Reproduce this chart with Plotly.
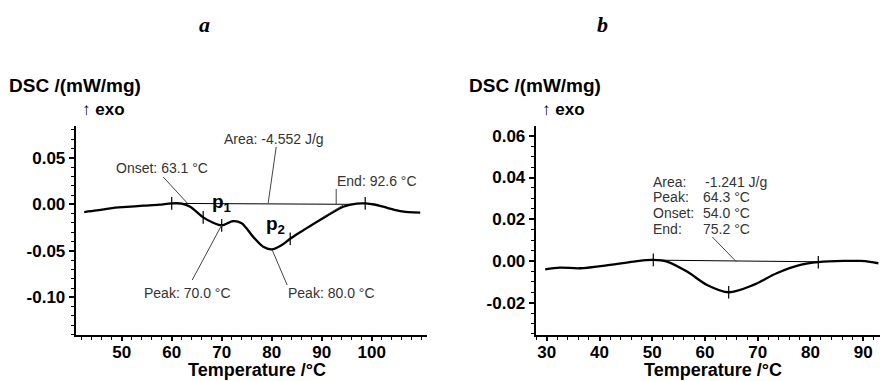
import plotly.graph_objects as go

W, H = 880, 381

# ---------------- data: panel a ----------------
a_T = [42.5, 45.0, 47.7, 51.0, 54.3, 57.5, 60.0, 62.0, 63.7, 66.3, 68.3, 70.0, 72.3, 74.0,
       76.3, 78.3, 80.0, 82.0, 83.7, 85.7, 87.7, 91.0, 94.3, 97.0, 98.7, 100.5, 102.3, 105.7, 109.7]
a_dsc = [-0.0083, -0.0066, -0.0043, -0.0028, -0.0015, -0.0004, 0.0010, 0.0008, -0.0026, -0.0140,
         -0.0198, -0.0226, -0.0180, -0.0204, -0.0350, -0.0456, -0.0484, -0.0438, -0.0370, -0.0300,
         -0.0233, -0.0126, -0.0026, 0.0008, 0.0010, -0.0002, -0.0026, -0.0072, -0.0090]
a_base_T = [60.0, 96.0]
a_base_dsc = [0.0010, 0.0000]
a_mark_T = [60.0, 66.3, 70.0, 83.7, 98.7]
a_mark_dsc = [0.0010, -0.0140, -0.0226, -0.0370, 0.0010]
a_xticks = [50, 60, 70, 80, 90, 100]
a_xticktext = ["50", "60", "70", "80", "90", "100"]
a_yticks = [-0.10, -0.05, 0.00, 0.05]
a_yticktext = ["-0.10", "-0.05", "0.00", "0.05"]

# ---------------- data: panel b ----------------
b_T = [29.7, 32.5, 36.3, 42.0, 46.4, 50.2, 52.8, 56.6, 60.4, 64.5, 69.2, 73.6, 78.1, 81.5,
       86.3, 89.5, 91.3, 92.9]
b_dsc = [-0.0040, -0.0032, -0.0035, -0.0019, -0.0003, 0.0005, -0.0003, -0.0051, -0.0115, -0.0150,
         -0.0115, -0.0059, -0.0019, -0.0006, 0.0000, 0.0000, -0.0004, -0.0011]
b_base_T = [50.2, 81.5]
b_base_dsc = [0.0004, -0.0004]
b_mark_T = [50.2, 64.5, 81.5]
b_mark_dsc = [0.0005, -0.0150, -0.0006]
b_xticks = [30, 40, 50, 60, 70, 80, 90]
b_xticktext = ["30", "40", "50", "60", "70", "80", "90"]
b_yticks = [-0.02, 0.00, 0.02, 0.04, 0.06]
b_yticktext = ["-0.02", "0.00", "0.02", "0.04", "0.06"]

a_labels = ["Area: -4.552 J/g", "Onset: 63.1 °C", "End: 92.6 °C", "Peak: 70.0 °C", "Peak: 80.0 °C"]
b_keys = ["Area:", "Peak:", "Onset:", "End:"]
b_vals = ["-1.241 J/g", "64.3 °C", "54.0 °C", "75.2 °C"]

# ---------------- figure ----------------
fig = go.Figure()
BLACK = "#000000"
TXT = "#333333"
SANS = "Liberation Sans, Arial, sans-serif"

def curve(T, v, xa, ya):
    fig.add_trace(go.Scatter(x=T, y=v, mode="lines", xaxis=xa, yaxis=ya,
                             line=dict(color=BLACK, width=2.3, shape="spline", smoothing=0.9),
                             showlegend=False, hoverinfo="skip"))

def base(T, v, xa, ya):
    fig.add_trace(go.Scatter(x=T, y=v, mode="lines", xaxis=xa, yaxis=ya,
                             line=dict(color=BLACK, width=1), showlegend=False, hoverinfo="skip"))

def marks(T, v, xa, ya):
    fig.add_trace(go.Scatter(x=T, y=v, mode="markers", xaxis=xa, yaxis=ya,
                             marker=dict(symbol="line-ns-open", size=9, color=BLACK,
                                         line=dict(width=1.2, color=BLACK)),
                             showlegend=False, hoverinfo="skip"))

base(a_base_T, a_base_dsc, "x", "y")
curve(a_T, a_dsc, "x", "y")
marks(a_mark_T, a_mark_dsc, "x", "y")
base(b_base_T, b_base_dsc, "x2", "y2")
curve(b_T, b_dsc, "x2", "y2")
marks(b_mark_T, b_mark_dsc, "x2", "y2")

ydom = [(H - 335) / H, (H - 126) / H]
tickfont = dict(family=SANS, size=17, color=BLACK, weight="bold")

def xax(dom, rng, tv, tt):
    return dict(domain=dom, range=rng, tickmode="array", tickvals=tv, ticktext=tt,
                ticks="outside", ticklen=4, tickwidth=1.5, tickcolor=BLACK,
                ticklabelstandoff=-3,
                minor=dict(tickmode="linear", tick0=0, dtick=2, ticks="outside", ticklen=3,
                           tickwidth=1, tickcolor=BLACK),
                showline=True, linewidth=2, linecolor=BLACK, showgrid=False, zeroline=False,
                tickfont=tickfont, fixedrange=True)

def yax(rng, tv, tt, mdt, anchor):
    return dict(domain=ydom, range=rng, tickmode="array", tickvals=tv, ticktext=tt,
                ticks="outside", ticklen=5, tickwidth=1.5, tickcolor=BLACK,
                minor=dict(tickmode="linear", tick0=0, dtick=mdt, ticks="outside", ticklen=3,
                           tickwidth=1, tickcolor=BLACK),
                showline=True, linewidth=2, linecolor=BLACK, showgrid=False, zeroline=False,
                tickfont=tickfont, anchor=anchor, fixedrange=True)

fig.update_layout(
    width=W, height=H, margin=dict(l=0, r=0, t=0, b=0),
    paper_bgcolor="white", plot_bgcolor="white", showlegend=False,
    xaxis=xax([75.7 / W, 426.7 / W], [40.8, 111.0], a_xticks, a_xticktext) | dict(anchor="y"),
    yaxis=yax([-0.1405, 0.0842], a_yticks, a_yticktext, 0.01, "x"),
    xaxis2=xax([535.7 / W, 1.0], [27.9, 93.2], b_xticks, b_xticktext) | dict(anchor="y2"),
    yaxis2=yax([-0.0355, 0.0647], b_yticks, b_yticktext, 0.005, "x2"),
)

def P(px, py):
    return px / W, 1 - py / H

def text(s, px, py, size=14, xanchor="left", color=TXT, family=SANS, weight="normal"):
    x, y = P(px, py)
    fig.add_annotation(x=x, y=y, xref="paper", yref="paper", text=s, showarrow=False,
                       xanchor=xanchor, yanchor="middle", borderpad=0,
                       font=dict(family=family, size=size, color=color, weight=weight))

def leader(x0, y0, x1, y1, xr, yr):
    fig.add_shape(type="line", x0=x0, y0=y0, x1=x1, y1=y1, xref=xr, yref=yr,
                  line=dict(color="#444444", width=1))

# panel titles
text("<b><i>a</i></b>", 204, 25, size=22, xanchor="center", color=BLACK,
     family="Liberation Serif, Times New Roman, serif")
text("<b><i>b</i></b>", 602, 25, size=22, xanchor="center", color=BLACK,
     family="Liberation Serif, Times New Roman, serif")

# axis titles
text("DSC /(mW/mg)", 8, 85, size=19, color=BLACK, weight="bold")
text("↑ <b>exo</b>", 81, 109, size=17, color=BLACK)
text("DSC /(mW/mg)", 468, 85, size=19, color=BLACK, weight="bold")
text("↑ <b>exo</b>", 541, 109, size=17, color=BLACK)
text("Temperature /°C", 257, 370, size=18, xanchor="center", color=BLACK, weight="bold")
text("Temperature /°C", 713, 370, size=18, xanchor="center", color=BLACK, weight="bold")

# panel a annotations
text(a_labels[0], 223, 139)
text(a_labels[1], 115, 168)
text(a_labels[2], 336, 181)
text(a_labels[3], 143, 293)
text(a_labels[4], 287, 293)
text("p<sub>1</sub>", 211, 203, size=19, color=BLACK, weight="bold")
text("p<sub>2</sub>", 265, 225, size=19, color=BLACK, weight="bold")

leader(80.9, 0.0616, 79.3, 0.0014, "x", "y")
leader(58.3, 0.0294, 63.1, 0.0014, "x", "y")
leader(92.9, 0.0165, 92.9, -0.0008, "x", "y")
leader(90.3, -0.0137, 94.3, -0.0008, "x", "y")
leader(64.1, -0.0814, 70.0, -0.0223, "x", "y")
leader(83.1, -0.0868, 80.1, -0.0491, "x", "y")

# panel b annotations
for i, (k, v) in enumerate(zip(b_keys, b_vals)):
    py = [182, 197, 213, 229][i]
    text(k, 652, py)
    text(v, 704 if i == 0 else 702, py)
leader(61.4, 0.0115, 66.0, -0.0005, "x2", "y2")

fig.write_html("out.html")
